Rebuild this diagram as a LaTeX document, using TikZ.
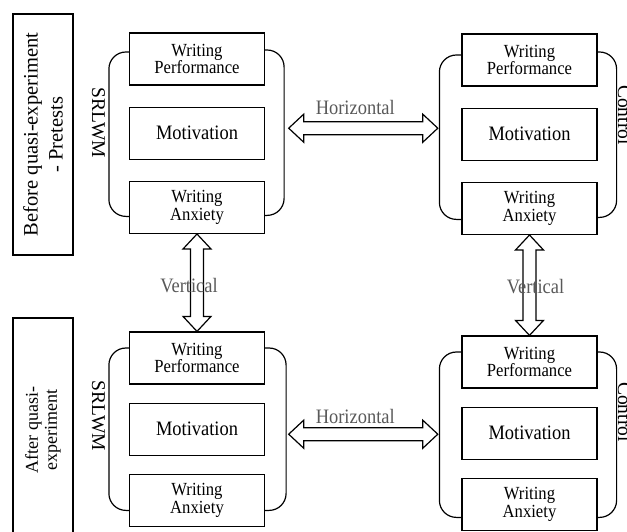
\documentclass[tikz,border=0pt]{standalone}
\usepackage{fontspec}
\setmainfont{Liberation Serif}
\newfontfamily\narrowrm[FakeStretch=0.9]{Liberation Serif}
\usetikzlibrary{positioning,calc,fit}

\begin{document}
\begin{tikzpicture}[x=1pt,y=-1pt,line width=1.2pt,node distance=21pt,
    font=\fontsize{18.5}{17.5}\narrowrm]
\tikzstyle{var}=[draw,minimum width=135pt,minimum height=52pt,inner sep=0pt,align=center]
\tikzstyle{mot}=[var,font=\fontsize{20.5}{20}\narrowrm]
\tikzstyle{stage}=[draw,rotate=90,minimum height=60pt,inner sep=0pt,align=center]
\tikzstyle{grp}=[rotate=-90,anchor=base,inner sep=0pt,font=\fontsize{19.5}{19}\selectfont]
\tikzstyle{group}=[inner xsep=23pt,inner ysep=0pt]
\tikzstyle{dir}=[text=black!65,anchor=base,inner sep=0pt,font=\fontsize{20.5}{20}\narrowrm]
\tikzstyle{block}=[to path={(\tikztostart)
    -- ($(\tikztostart)!15pt!(\tikztotarget)!14pt!90:(\tikztotarget)$)
    -- ($(\tikztostart)!15pt!(\tikztotarget)!6.5pt!90:(\tikztotarget)$)
    -- ($(\tikztotarget)!15pt!(\tikztostart)!6.5pt!-90:(\tikztostart)$)
    -- ($(\tikztotarget)!15pt!(\tikztostart)!14pt!-90:(\tikztostart)$)
    -- (\tikztotarget)
    -- ($(\tikztotarget)!15pt!(\tikztostart)!14pt!90:(\tikztostart)$)
    -- ($(\tikztotarget)!15pt!(\tikztostart)!6.5pt!90:(\tikztostart)$)
    -- ($(\tikztostart)!15pt!(\tikztotarget)!6.5pt!-90:(\tikztotarget)$)
    -- ($(\tikztostart)!15pt!(\tikztotarget)!14pt!-90:(\tikztotarget)$)
    -- cycle}]

\useasboundingbox (0,0) rectangle (627,531);

% pretests
\node[stage,minimum width=241pt,font=\fontsize{20.5}{25}\selectfont]
    (B1) at (43,134.5) {Before quasi-experiment\\- Pretests};
\node[var] (WP1) at (197,59) {Writing\\Performance};
\node[mot] (MO1) [below=of WP1] {Motivation};
\node[var] (WA1) [below=of MO1] {Writing\\Anxiety};
\node[var] (WP2) at (529.5,60) {Writing\\Performance};
\node[mot] (MO2) [below=of WP2] {Motivation};
\node[var] (WA2) [below=of MO2] {Writing\\Anxiety};

% after
\node[stage,minimum width=224pt,font=\fontsize{18}{19}\selectfont]
    (B2) at (43,430) {After quasi-\\experiment};
\node[var] (WP3) at (197,358) {Writing\\Performance};
\node[mot] (MO3) [below=18pt of WP3] {Motivation};
\node[var] (WA3) [below=18pt of MO3] {Writing\\Anxiety};
\node[var] (WP4) at (529.5,362) {Writing\\Performance};
\node[mot] (MO4) [below=18pt of WP4] {Motivation};
\node[var] (WA4) [below=18pt of MO4] {Writing\\Anxiety};

\node[group,fit=(WP1)(WA1)] (G1) {};
\node[group,fit=(WP2)(WA2)] (G2) {};
\node[group,fit=(WP3)(WA3)] (G3) {};
\node[group,fit=(WP4)(WA4)] (G4) {};

\node[grp] (S1) at (92,123) {SRLWM};
\node[grp] (C1) at (618,115) {Control};
\node[grp] (S2) at (92,416) {SRLWM};
\node[grp] (C2) at (618,412) {Control};

% brackets round the groups
\draw[rounded corners=17pt]
    ([yshift=7pt]WP1.west) -- ++(-20,0) |- ([yshift=-9pt]WA1.west)
    ([yshift=9pt]WP1.east) -- ++(19,0) |- ([yshift=-8pt]WA1.east)
    ([yshift=5pt]WP2.west) -- ++(-22,0) |- ([yshift=-11pt]WA2.west)
    ([yshift=8pt]WP2.east) -- ++(19,0) |- ([yshift=-9pt]WA2.east)
    ([yshift=10pt]WP3.west) -- ++(-20,0) |- ([yshift=-10pt]WA3.west)
    ([yshift=10pt]WP3.east) -- ++(21,0) |- ([yshift=-10pt]WA3.east)
    ([yshift=10pt]WP4.west) -- ++(-22,0) |- ([yshift=-13pt]WA4.west)
    ([yshift=10pt]WP4.east) -- ++(19,0) |- ([yshift=-13pt]WA4.east);

\coordinate (H1) at ([yshift=5pt]G1.east);
\coordinate (H2) at ([yshift=-5pt]G3.east);

\path[draw] (H1) to[block] (H1 -| G2.west)
            (H2) to[block] (H2 -| G4.west)
            (WA1.south) to[block] (WP3.north)
            (WA2.south) to[block] (WP4.north);

\node[dir] (HL1) at ($(H1)!0.5!(H1 -| G2.west)+(-8,-14)$) {Horizontal};
\node[dir] (HL2) at ($(H2)!0.5!(H2 -| G4.west)+(-8,-11)$) {Horizontal};
\node[dir] (VL1) at ($(WA1.south)!0.5!(WP3.north)+(-8,10)$) {Vertical};
\node[dir] (VL2) at ($(WA2.south)!0.5!(WP4.north)+(6,8)$) {Vertical};
\end{tikzpicture}
\end{document}
